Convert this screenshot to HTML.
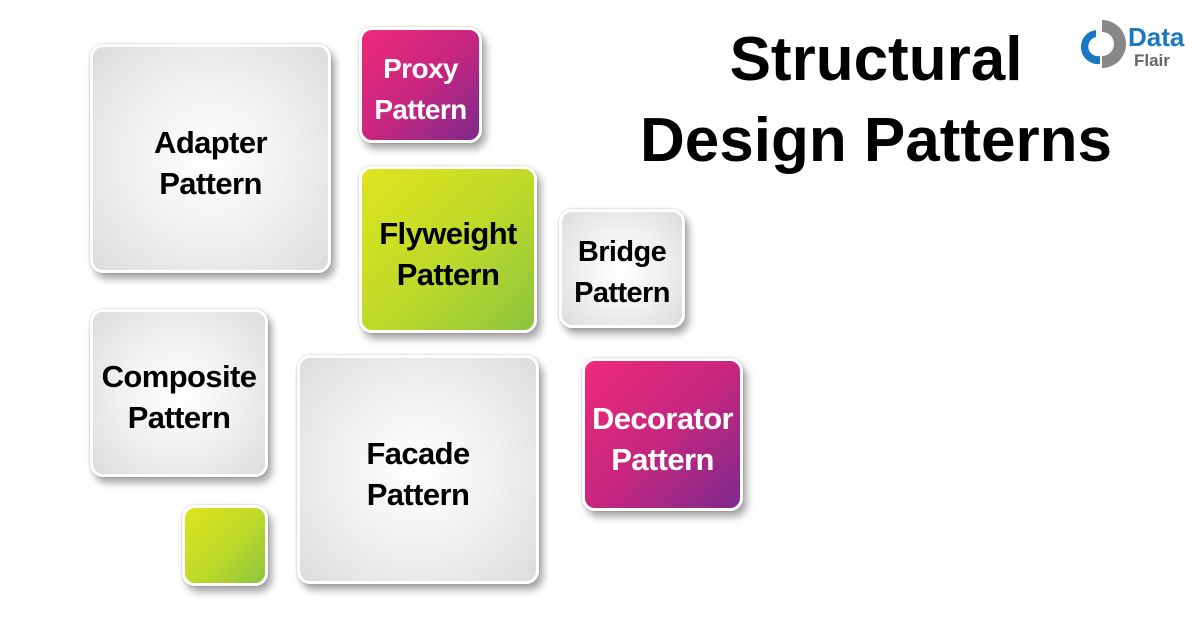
<!DOCTYPE html>
<html><head><style>
body{margin:0;width:1200px;height:628px;background:#fff;position:relative;overflow:hidden;font-family:"Liberation Sans",sans-serif;}
.b{position:absolute;box-sizing:border-box;border:3px solid #fff;border-radius:13px;box-shadow:4px 6px 8px rgba(0,0,0,.35),0 0 2px rgba(0,0,0,.25);display:flex;align-items:center;justify-content:center;text-align:center;font-weight:bold;font-size:31px;line-height:41px;color:#000;letter-spacing:-0.6px;padding-top:8px}
.g{background:radial-gradient(circle at 50% 50%,#fff 0%,#f2f2f2 45%,#dcdcdd 100%)}
.m{background:linear-gradient(135deg,#ee2a7b 0%,#c8267f 50%,#7c2a8c 100%);color:#fff}
.y{background:linear-gradient(135deg,#dfe41f 0%,#bcd92a 55%,#8cc43e 100%)}
.t{position:absolute;font-weight:bold;font-size:62px;color:#000;text-align:center;width:600px;left:576px}
</style></head><body>
<div class="b g" style="left:90px;top:44px;width:241px;height:229px">Adapter<br>Pattern</div>
<div class="b m" style="left:359px;top:27px;width:123px;height:116px;font-size:28px">Proxy<br>Pattern</div>
<div class="b y" style="left:359px;top:166px;width:178px;height:167px">Flyweight<br>Pattern</div>
<div class="b g" style="left:559px;top:209px;width:126px;height:119px;font-size:29px">Bridge<br>Pattern</div>
<div class="b g" style="left:90px;top:309px;width:178px;height:168px">Composite<br>Pattern</div>
<div class="b g" style="left:297px;top:355px;width:242px;height:229px">Facade<br>Pattern</div>
<div class="b m" style="left:582px;top:358px;width:161px;height:153px">Decorator<br>Pattern</div>
<div class="b y" style="left:182px;top:505px;width:86px;height:81px"></div>
<div class="t" style="top:24px">Structural</div>
<div class="t" style="top:105px">Design Patterns</div>
<svg style="position:absolute;left:1078px;top:16px" width="115" height="58">
<path d="M24 4 A24 24 0 1 1 24 52 L24 40 A12 12 0 1 0 24 16 Z" fill="#888"/>
<path d="M18 14 A16 16 0 1 0 22 48 L22 40 A9 9 0 1 1 18 21 Z" fill="#1a78c2"/>
<text x="50" y="30" font-family="Liberation Sans" font-weight="bold" font-size="26" fill="#1a78c2">Data</text>
<text x="56" y="50" font-family="Liberation Sans" font-weight="bold" font-size="17" fill="#666">Flair</text>
</svg>
</body></html>
